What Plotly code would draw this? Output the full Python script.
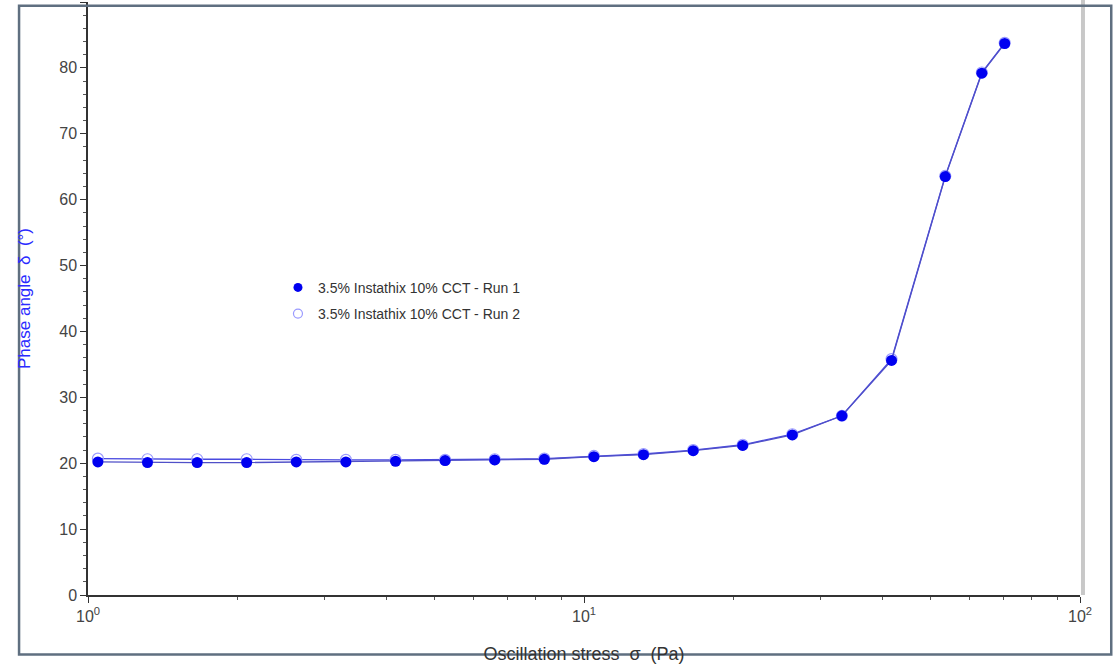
import plotly.graph_objects as go

# Oscillation stress (Pa)
stress_run1 = [1.047, 1.318, 1.66, 2.089, 2.63, 3.311, 4.169, 5.248, 6.607, 8.318,
               10.47, 13.18, 16.6, 20.89, 26.3, 33.11, 41.69, 53.5, 63.4, 70.5]
phase_run1 = [20.2, 20.1, 20.1, 20.1, 20.2, 20.2, 20.3, 20.4, 20.5, 20.6,
              21.0, 21.3, 21.9, 22.7, 24.3, 27.2, 35.6, 63.5, 79.2, 83.7]

stress_run2 = [1.047, 1.318, 1.66, 2.089, 2.63, 3.311, 4.169, 5.248, 6.607, 8.318,
               10.47, 13.18, 16.6, 20.89, 26.3, 33.11, 41.69, 53.5, 63.4, 70.5]
phase_run2 = [20.7, 20.6, 20.6, 20.6, 20.5, 20.5, 20.5, 20.5, 20.6, 20.7,
              21.1, 21.4, 22.0, 22.8, 24.4, 27.2, 35.8, 63.6, 79.3, 83.8]

series_names = ["3.5% Instathix 10% CCT - Run 1", "3.5% Instathix 10% CCT - Run 2"]
x_tickvals = [1, 10, 100]
x_ticktext = ["10<sup>0</sup>", "10<sup>1</sup>", "10<sup>2</sup>"]
y_tickvals = [0, 10, 20, 30, 40, 50, 60, 70, 80, 90]

FONT = "Liberation Sans, Arial, sans-serif"
RUN1_MARKER = dict(symbol="circle", size=11, color="#0000f0")
RUN2_MARKER = dict(symbol="circle-open", size=11, color="#9a9aff", line=dict(width=1.2, color="#9a9aff"))

fig = go.Figure()
# data traces (lines + markers), no legend entries
fig.add_trace(go.Scatter(
    x=stress_run2, y=phase_run2, mode="lines+markers", name=series_names[1],
    line=dict(color="#4a4ae0", width=1.3), marker=RUN2_MARKER, showlegend=False,
))
fig.add_trace(go.Scatter(
    x=stress_run1, y=phase_run1, mode="lines+markers", name=series_names[0],
    line=dict(color="#5050c8", width=1.3), marker=RUN1_MARKER, showlegend=False,
))
# legend entries showing marker only
fig.add_trace(go.Scatter(
    x=[None], y=[None], mode="markers", name=series_names[0],
    marker=dict(symbol="circle", size=9, color="#0000f0"), legendgroup="r1",
))
fig.add_trace(go.Scatter(
    x=[None], y=[None], mode="markers", name=series_names[1],
    marker=dict(symbol="circle-open", size=9, color="#9a9aff", line=dict(width=1.2, color="#9a9aff")),
    legendgroup="r2",
))

fig.update_layout(
    width=1116, height=664,
    margin=dict(l=88, r=36, t=2, b=66),
    paper_bgcolor="white", plot_bgcolor="white",
    font=dict(family=FONT, color="#444444"),
    showlegend=True,
    legend=dict(
        x=0.1915, y=0.545, xanchor="left", yanchor="top",
        bgcolor="rgba(0,0,0,0)", borderwidth=0,
        font=dict(size=14, color="#333333"),
        itemwidth=30, tracegroupgap=5,
    ),
    xaxis=dict(
        type="log", range=[0, 2],
        tickvals=x_tickvals, ticktext=x_ticktext,
        ticks="outside", ticklen=6, tickcolor="#333333",
        showline=True, linecolor="#333333", linewidth=1.5,
        showgrid=False, zeroline=False,
        tickfont=dict(size=16, color="#444444"),
        minor=dict(ticks="outside", ticklen=3, tickcolor="#555555", dtick="D1", showgrid=False),
        title=dict(text="Oscillation stress  σ  (Pa)", font=dict(size=18, color="#333333"), standoff=24),
    ),
    yaxis=dict(
        range=[0, 90], tickvals=y_tickvals,
        ticks="outside", ticklen=6, tickcolor="#333333",
        showline=True, linecolor="#333333", linewidth=1.5,
        showgrid=False, zeroline=False,
        tickfont=dict(size=16, color="#444444"),
        minor=dict(ticks="outside", ticklen=3, tickcolor="#555555", dtick=2, showgrid=False),
        title=dict(text="Phase angle  δ  (°)", font=dict(size=17, color="#2a2aff"), standoff=24),
    ),
    shapes=[
        # right shadow edge of plot area
        dict(type="line", xref="paper", yref="paper", x0=1.003, x1=1.003, y0=0, y1=1.01,
             line=dict(color="#c8c8c8", width=4), layer="above"),
        # outer frame
        dict(type="rect", xref="paper", yref="paper",
             x0=-0.0695, x1=1.0315, y0=-0.1005, y1=0.9935,
             line=dict(color="#5f6f80", width=2.5), layer="above"),
    ],
)

fig.write_html(
    "out.html",
    config={"displayModeBar": False},
    post_script="document.body.style.margin='0';document.body.style.padding='0';document.body.style.overflow='hidden';",
)
